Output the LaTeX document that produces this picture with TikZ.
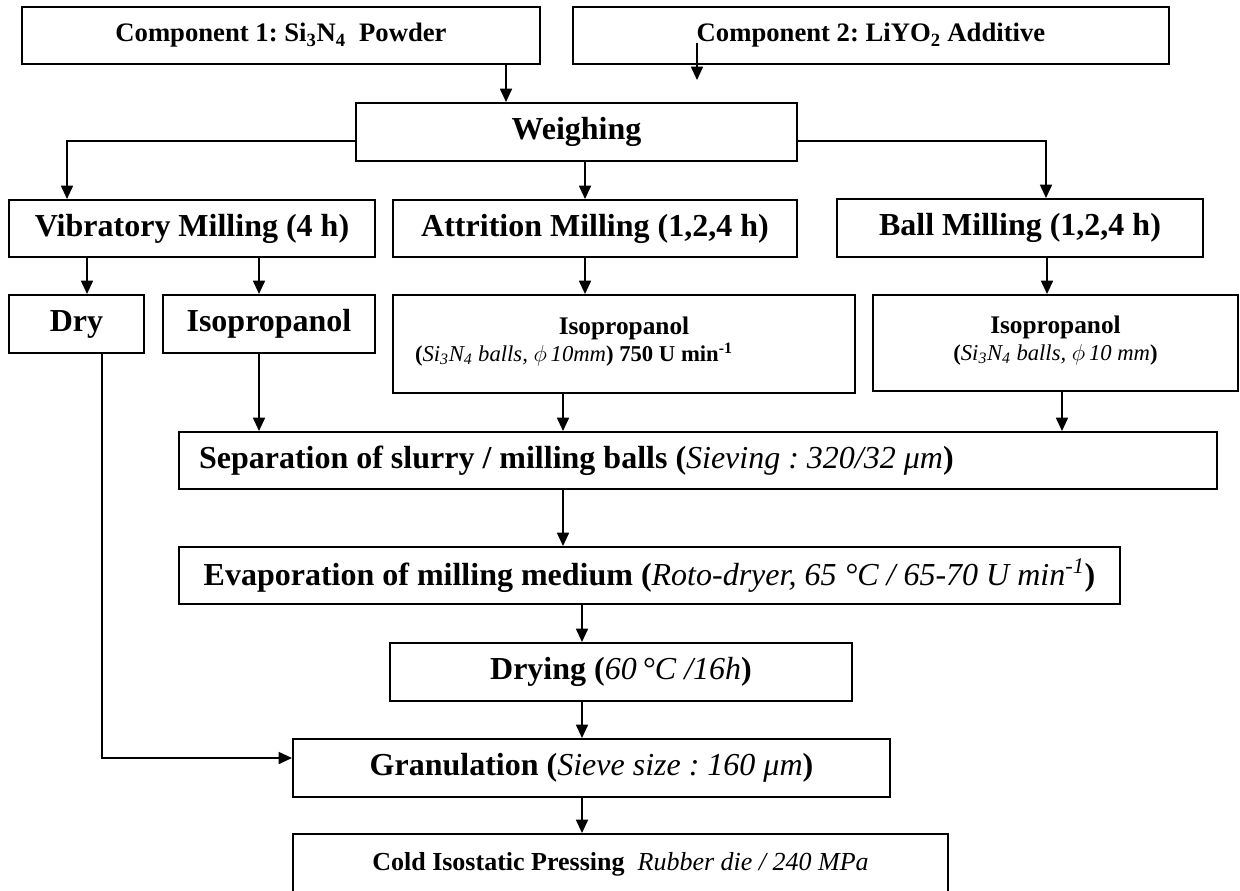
\documentclass[tikz,border=0pt]{standalone}
\usepackage{fontspec}
\setmainfont{Liberation Serif}
\usetikzlibrary{arrows.meta}
\frenchspacing
\newcommand{\bigtxt}{\fontsize{24}{28}\selectfont\bfseries}
\newcommand{\comptxt}{\fontsize{20}{24}\selectfont\bfseries}
\newcommand{\isotxt}{\fontsize{19}{23}\selectfont\bfseries}
\newcommand{\linetxt}{\fontsize{17}{20}\selectfont\bfseries}
\newcommand{\ciptxt}{\fontsize{19.5}{23}\selectfont}
\newcommand{\fontspaces}{\spaceskip=0pt\xspaceskip=0pt}

\begin{document}
\begin{tikzpicture}[x=0.75pt,y=-0.75pt,
		stage/.style={draw, line width=1.5pt, inner sep=0pt, align=center},
		dims/.style 2 args={minimum width=#1*0.75pt, minimum height=#2*0.75pt},
		flow/.style={line width=1.3pt, -{Triangle[width=9pt,length=10pt]}}]
	\useasboundingbox (0,0) rectangle (1240,890);
	\clip (0,0) rectangle (1240,890);

	% Starting materials
	\node[stage, dims={518}{57}] (comp1) at (281,35.5) {\comptxt Component 1: Si\textsubscript{3}N\textsubscript{4}\ \ Powder};
	\node[stage, dims={596}{57}] (comp2) at (871,35.5) {\comptxt Component 2: LiYO\textsubscript{2} Additive};
	\node[stage, dims={441}{58}] (weigh) at (576.5,132) {\bigtxt Weighing};

	% Milling routes
	\node[stage, dims={366}{57}] (vib) at (192,228.5) {\bigtxt Vibratory Milling (4 h)};
	\node[stage, dims={404}{57}] (att) at (595,228.5) {\bigtxt Attrition Milling (1,2,4 h)};
	\node[stage, dims={366}{58}] (ball) at (1020,228) {\bigtxt Ball Milling (1,2,4 h)};

	\node[stage, dims={135}{58}] (dry) at (76.5,324) {\bigtxt Dry};
	\node[stage, dims={212}{58}] (iso) at (269,324) {\bigtxt Isopropanol};
	\node[stage, dims={462}{98}, text width=313.5pt, align=left] (attiso) at (624,344)
		{\fontspaces\noindent\makebox[\hsize]{\isotxt Isopropanol}\\
		 \linetxt\mbox{(\textit{\mdseries Si\textsubscript{3}N\textsubscript{4} balls, $\phi$\,10mm}) 750 U min\textsuperscript{-1}}\\[-5pt]\mbox{}};
	\node[stage, dims={365}{96}, text width=240pt] (balliso) at (1055.5,343)
		{\fontspaces\isotxt Isopropanol\\
		 \linetxt\mbox{(\textit{\mdseries Si\textsubscript{3}N\textsubscript{4} balls, $\phi$\,10 mm})}\\[-5pt]\mbox{}};

	% Processing
	\node[stage, dims={1038}{57}, text width=748.5pt, align=left] (sep) at (698,460.5)
		{\fontspaces\bigtxt\mbox{Separation of slurry / milling balls (\textit{\mdseries Sieving : 320/32 μm})}};
	\node[stage, dims={941}{57}] (evap) at (649.5,575.5)
		{\bigtxt Evaporation of milling medium (\textit{\mdseries Roto-dryer, 65 °C / 65-70 U min\textsuperscript{-1}})};
	\node[stage, dims={462}{58}] (dryg) at (621,672) {\bigtxt Drying (\textit{\mdseries 60\,°C /16h})};
	\node[stage, dims={597}{58}] (gran) at (591.5,768) {\bigtxt Granulation (\textit{\mdseries Sieve size : 160 μm})};
	\node[stage, dims={655}{60}] (cip) at (620.5,864)
		{\ciptxt\textbf{Cold Isostatic Pressing}\ \ \textit{Rubber die / 240 MPa}};

	% Connectors
	\coordinate (c2top) at (697,43);
	\coordinate (c2tip) at (697,80);
	\draw[flow] (c2top) -- (c2tip);
	\draw[flow] (weigh.west |- 0,141) -| (vib.north -| 67,0);
	\draw[flow] (weigh.east |- 0,141) -| (ball.north -| 1046,0);
	\foreach \a/\b/\x in {comp1/weigh/506, weigh/att/585, vib/dry/87, vib/iso/259,
			att/attiso/585, ball/balliso/1047, iso/sep/259, attiso/sep/563,
			balliso/sep/1062, sep/evap/563, evap/dryg/582, dryg/gran/582, gran/cip/582}
		\draw[flow] (\a.south -| \x,0) -- (\b.north -| \x,0);
	\draw[flow] (dry.south -| 102,0) |- (gran.west |- 0,758);

\end{tikzpicture}
\end{document}
